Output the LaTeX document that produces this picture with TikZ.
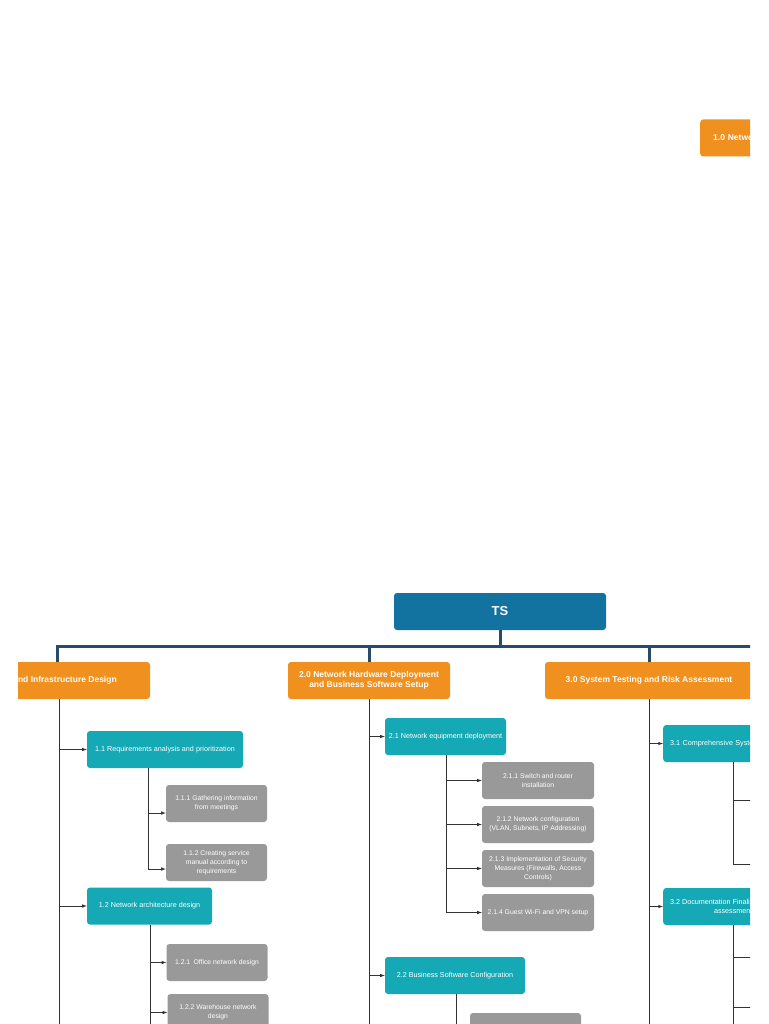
\documentclass[tikz,border=0pt]{standalone}
\usepackage{fontspec}
\setmainfont{Liberation Sans}
\usetikzlibrary{positioning,calc,arrows}
\definecolor{tsblue}{HTML}{1272A0}
\definecolor{barblue}{HTML}{274B6B}
\definecolor{phase}{HTML}{F0901E}
\definecolor{task}{HTML}{14A9B5}
\definecolor{sub}{HTML}{999999}
\hyphenpenalty=10000
\begin{document}
\begin{tikzpicture}
    [
    x=1pt, y=-1pt,
    box/.style={
      rounded corners=3pt, text=white, align=center,
      inner sep=2pt},
    root/.style={
      box, fill=tsblue, font=\bfseries\fontsize{13}{15}\selectfont},
    phase/.style={
      box, fill=phase, minimum height=37pt,
      font=\bfseries\fontsize{8.5}{10.5}\selectfont},
    task/.style={
      box, fill=task, minimum height=37pt,
      font=\fontsize{7.2}{9}\selectfont},
    sub/.style={
      box, fill=sub, minimum height=37pt, minimum width=101pt,
      font=\fontsize{6.8}{9}\selectfont},
    bar/.style={line width=3pt, color=barblue},
    trunk/.style={line width=0.6pt, color=black!80},
    arr/.style={trunk, -latex}
    ]
    \useasboundingbox (0,0) rectangle (768,1024);
    \clip (18,0) rectangle (750,1024);

    % loose node at the top right
    \node[phase, anchor=west, minimum width=200pt, text width=190pt, align=left]
      (top) at (700,138) {\hspace*{8pt}1.0 Network and Infrastructure Design};

    % root and phases
    \node[root, minimum width=212pt, minimum height=37pt] (ts) at (500,611.5) {TS};
    \node[phase, minimum width=220pt] (p1) at (40,680.5) {1.0 Network and Infrastructure Design};
    \node[phase, minimum width=162pt] (p2) at (369,680.5) {2.0 Network Hardware Deployment\\and Business Software Setup};
    \node[phase, minimum width=208pt] (p3) at (649,680.5) {3.0 System Testing and Risk Assessment};

    \coordinate (b1) at (57,646);
    \coordinate (b2) at (369,646);
    \coordinate (b3) at (649,646);
    \coordinate (bend) at (770,646);
    \draw[bar] (ts.south) -- (ts.south |- b1);
    \draw[bar] (p1.north -| b1) -- (b1) -- (bend);
    \draw[bar] (b2) -- (p2.north);
    \draw[bar] (b3) -- (p3.north);

    % phase 1
    \node[task, minimum width=156pt] (t11) at (165,749.5) {1.1 Requirements analysis and prioritization};
    \node[task, minimum width=125pt] (t12) at (149.5,906) {1.2 Network architecture design};
    \node[sub] (s111) at (216.5,803.5) {1.1.1 Gathering information\\from meetings};
    \node[sub] (s112) at (216.5,862.5) {1.1.2 Creating service\\manual according to\\requirements};
    \node[sub] (s121) at (217,962.5) {1.2.1\enspace Office network design};
    \node[sub] (s122) at (218,1012.5) {1.2.2 Warehouse network\\design};

    \coordinate (l1) at (59,1024);
    \draw[trunk] (p1.south -| l1) -- (l1);
    \foreach \n in {t11,t12} \draw[arr] (l1 |- \n.west) -- (\n.west);
    \coordinate (l11) at (148,813);
    \draw[trunk] (t11.south -| l11) -- (148,869);
    \draw[arr] (148,813) -- (s111.west |- 148,813);
    \draw[arr] (148,869) -- (s112.west |- 148,869);
    \coordinate (l12) at (150,1024);
    \draw[trunk] (t12.south -| l12) -- (l12);
    \foreach \n in {s121,s122} \draw[arr] (l12 |- \n.west) -- (\n.west);

    % phase 2
    \node[task, minimum width=121pt] (t21) at (445.5,736.5) {2.1 Network equipment deployment};
    \node[task, minimum width=140pt] (t22) at (455,975.5) {2.2 Business Software Configuration};
    \node[sub, minimum width=112pt] (s211) at (538,780.5) {2.1.1 Switch and router\\installation};
    \node[sub, minimum width=112pt] (s212) at (538,824.5) {2.1.2 Network configuration\\(VLAN, Subnets, IP Addressing)};
    \node[sub, minimum width=112pt] (s213) at (538,868.5) {2.1.3 Implementation of Security\\Measures (Firewalls, Access\\Controls)};
    \node[sub, minimum width=112pt] (s214) at (538,912.5) {2.1.4 Guest Wi-Fi and VPN setup};
    \node[sub, minimum width=111pt] (s221) at (525.5,1031.5) {};

    \coordinate (l2) at (369,1024);
    \draw[trunk] (p2.south -| l2) -- (l2);
    \foreach \n in {t21,t22} \draw[arr] (l2 |- \n.west) -- (\n.west);
    \coordinate (l21) at (446,913);
    \draw[trunk] (t21.south -| l21) -- (l21);
    \foreach \n in {s211,s212,s213,s214} \draw[arr] (l21 |- \n.west) -- (\n.west);
    \coordinate (l22) at (456,1024);
    \draw[trunk] (t22.south -| l22) -- (l22);

    % phase 3
    \node[task, minimum width=160pt, text width=146pt, align=left, anchor=west] (t31) at (663,743.5) {3.1 Comprehensive System Testing};
    \node[task, minimum width=140pt, anchor=west] (t32) at (663,906.5) {3.2 Documentation Finalization and risk\\assessment};

    \coordinate (l3) at (649,1024);
    \draw[trunk] (p3.south -| l3) -- (l3);
    \foreach \n in {t31,t32} \draw[arr] (l3 |- \n.west) -- (\n.west);
    \coordinate (l31) at (733,864);
    \draw[trunk] (t31.south -| l31) -- (l31) -- (760,864);
    \draw[trunk] (733,800) -- (760,800);
    \coordinate (l32) at (733,1024);
    \draw[trunk] (t32.south -| l32) -- (l32);
    \draw[trunk] (733,957) -- (760,957);
    \draw[trunk] (733,1007) -- (760,1007);
\end{tikzpicture}
\end{document}
